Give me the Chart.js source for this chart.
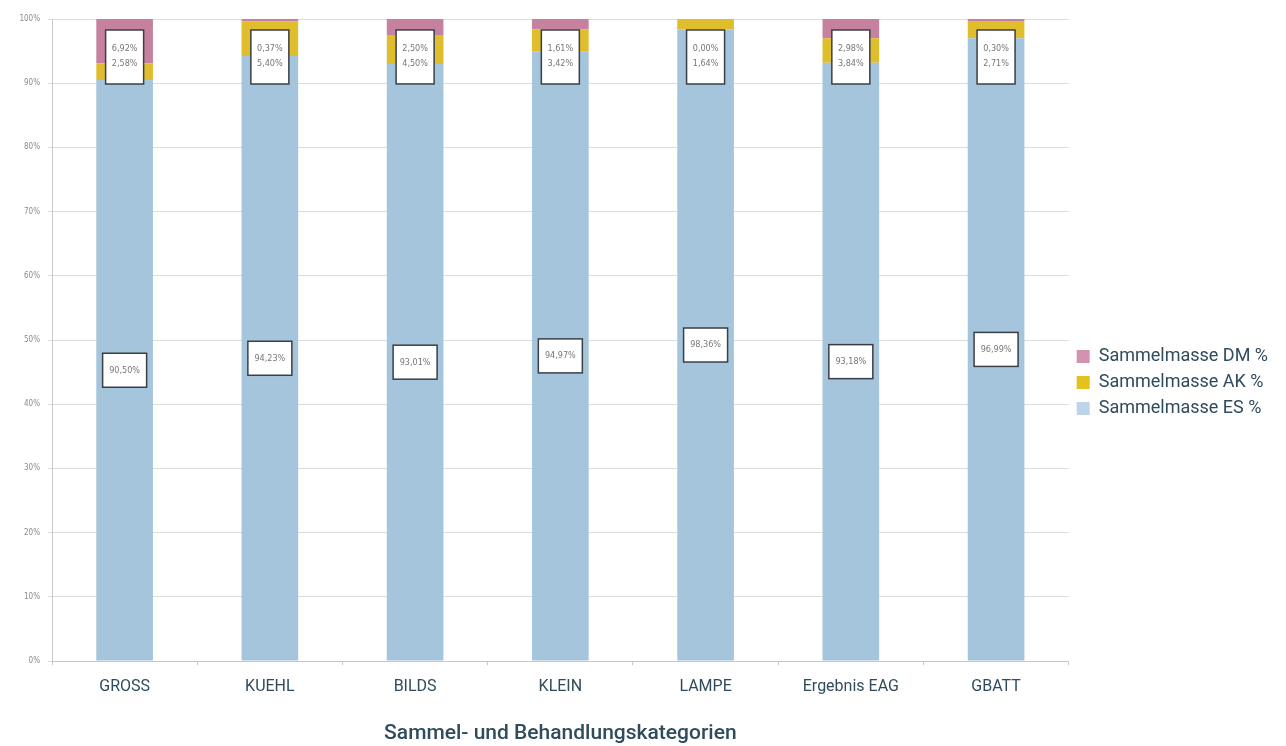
<!DOCTYPE html>
<html>
<head>
<meta charset="utf-8">
<script src="https://cdn.jsdelivr.net/npm/chart.js@4.4.1/dist/chart.umd.min.js"></script>
<style>
  html, body { margin: 0; padding: 0; background: #fff; }
  #wrap { width: 1286px; height: 746px; }
</style>
</head>
<body>
<div id="wrap"><canvas id="chart"></canvas></div>
<script>
const categories = ['GROSS', 'KUEHL', 'BILDS', 'KLEIN', 'LAMPE', 'Ergebnis EAG', 'GBATT'];
const es_values = [90.50, 94.23, 93.01, 94.97, 98.36, 93.18, 96.99];
const ak_values = [2.58, 5.40, 4.50, 3.42, 1.64, 3.84, 2.71];
const dm_values = [6.92, 0.37, 2.50, 1.61, 0.00, 2.98, 0.30];
const y_ticks = [0, 10, 20, 30, 40, 50, 60, 70, 80, 90, 100];

const text_color = '#2f4b5c';

function pct(v) {
    return v.toFixed(2).replace('.', ',') + '%';
}

// white boxes with the percentages on top of the bars
const valueBoxes = {
    id: 'valueBoxes',
    afterDatasetsDraw(chart) {
        const ctx = chart.ctx;
        const esMeta = chart.getDatasetMeta(0);
        const dmMeta = chart.getDatasetMeta(2);
        ctx.save();
        ctx.font = '9px "DejaVu Sans Condensed", "DejaVu Sans", sans-serif';
        ctx.textAlign = 'center';
        ctx.textBaseline = 'middle';
        ctx.lineWidth = 1.5;
        ctx.strokeStyle = '#3a3f45';

        for (let i = 0; i < categories.length; i++) {
            // middle of the ES segment
            const es = esMeta.data[i];
            const cy = (es.y + es.base) / 2;
            ctx.fillStyle = '#fff';
            ctx.fillRect(es.x - 22, cy - 17, 44, 34);
            ctx.strokeRect(es.x - 22, cy - 17, 44, 34);
            ctx.fillStyle = '#777';
            ctx.fillText(pct(es_values[i]), es.x, cy);

            // DM and AK share one box just under the top of the bar
            const top = dmMeta.data[i].y + 11;
            ctx.fillStyle = '#fff';
            ctx.fillRect(es.x - 19, top, 38, 54);
            ctx.strokeRect(es.x - 19, top, 38, 54);
            ctx.fillStyle = '#777';
            ctx.fillText(pct(dm_values[i]), es.x, top + 19);
            ctx.fillText(pct(ak_values[i]), es.x, top + 34);
        }
        ctx.restore();
    }
};

const legendColors = ['#bdd5ea', '#e4c21c', '#d293b0'];

new Chart(document.getElementById('chart'), {
    type: 'bar',
    data: {
        labels: categories,
        datasets: [
            { label: 'Sammelmasse ES %', data: es_values, backgroundColor: '#a4c5db' },
            { label: 'Sammelmasse AK %', data: ak_values, backgroundColor: '#dfbd2c' },
            { label: 'Sammelmasse DM %', data: dm_values, backgroundColor: '#c6819f' }
        ]
    },
    options: {
        responsive: true,
        maintainAspectRatio: false,
        animation: false,
        layout: { padding: { top: 19, right: 8, bottom: 0, left: 0 } },
        datasets: {
            bar: { barPercentage: 0.39, categoryPercentage: 1, borderWidth: 0 }
        },
        scales: {
            x: {
                stacked: true,
                grid: { display: true, drawOnChartArea: false, tickLength: 4, color: '#c8c8c8' },
                border: { color: '#c8c8c8' },
                ticks: { color: text_color, font: { family: 'Roboto', size: 16 }, padding: 12 },
                title: {
                    display: true,
                    text: 'Sammel- und Behandlungskategorien',
                    color: text_color,
                    font: { family: 'Roboto', size: 21, weight: '500' },
                    padding: { top: 22, bottom: 0 }
                },
                afterFit(scale) { scale.height = 85; }
            },
            y: {
                stacked: true,
                min: 0,
                max: 100,
                afterBuildTicks(scale) { scale.ticks = y_ticks.map(v => ({ value: v })); },
                grid: { color: '#dcdcdc', tickLength: 4 },
                border: { color: '#c8c8c8' },
                ticks: {
                    color: '#8a8a8a',
                    font: { family: 'DejaVu Sans Condensed', size: 8 },
                    padding: 8,
                    callback: v => v + '%'
                },
                afterFit(scale) { scale.width = 52; }
            }
        },
        plugins: {
            legend: {
                position: 'right',
                reverse: true,
                labels: {
                    color: text_color,
                    font: { family: 'Roboto', size: 18 },
                    boxWidth: 13,
                    boxHeight: 13,
                    padding: 8,
                    generateLabels(chart) {
                        return chart.data.datasets.map((ds, i) => ({
                            text: ds.label,
                            fillStyle: legendColors[i],
                            strokeStyle: legendColors[i],
                            lineWidth: 0,
                            fontColor: text_color,
                            datasetIndex: i,
                            hidden: false
                        }));
                    }
                }
            },
            tooltip: { enabled: false }
        }
    },
    plugins: [valueBoxes]
});
</script>
</body>
</html>
